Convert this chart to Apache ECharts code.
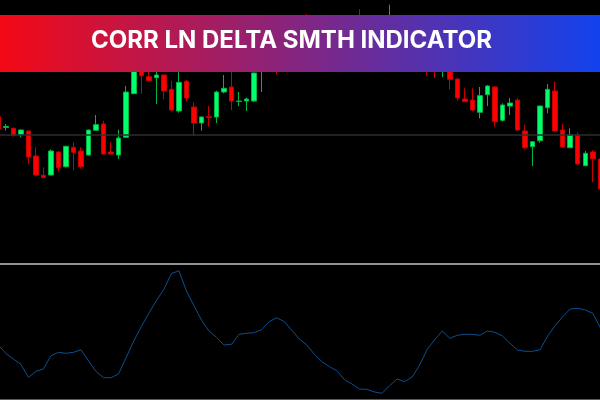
<!DOCTYPE html>
<html>
<head>
<meta charset="utf-8">
<style>
    html, body { margin: 0; padding: 0; background: #000; overflow: hidden; }
    /* chart is wider than the window so the first and last candles can be cut off */
    #main { position: absolute; left: -30px; top: 0; width: 660px; height: 400px; }
</style>
<script src="https://cdn.jsdelivr.net/npm/echarts@6/dist/echarts.min.js"></script>
</head>
<body>
<div id="main"></div>
<script>
// levels, '-' = candle fully hidden behind the banner
var opens = [147.3,136.5,135.7,129.3,133,108,88.7,89,112,97.3,116.7,113,109,133.7,140,112,109,126.7,170.3,200,187.3,186.3,189,174.7,153,182.7,157,141,147.3,147,172,177,162.5,163,163,194,
    '-',205,'-','-','-',222,'-','-','-','-','-','-',240,'-','-','-',235,'-','-','-','-',
    205,205,198,200,185,165,164,151.7,169.3,177,143.7,158,164,133,117.3,123.3,156.3,173,134,116.3,128.7,98.3,112,105];
var closes = [135,137.5,128.3,134,107,89,86.7,113,96.3,117.7,111.7,97.3,134,139.3,110,110,126,172,205,188.3,183.3,189,173,154,181.7,166,141,147,146.5,172,175.7,163,163,165,191,204,
    '-',198,'-','-','-',212,'-','-','-','-','-','-',230,'-','-','-',245,'-','-','-','-',
    198,198,205,184.7,166,162.3,154,168.3,178,142.3,159,161,134,116.3,122.3,158,174.7,133,117,129,100,110.7,105.3,75];
var lows = [135,133.3,127.7,126.7,100,88.5,86,88.5,92.7,96.5,93.7,95.3,108.5,133.5,109.5,109.5,105,126.3,170,170.3,183,160,164.7,153,151.3,163,128,133.3,137.3,141,170.7,154,158,153,162,172,
    '-',189.3,'-','-','-',205,'-','-','-','-','-','-',222,'-','-','-',228,'-','-','-','-',
    188.3,186,187,174.7,163.3,162,153,145.7,158,137.3,142.3,149,133,115,98,121.3,150.7,132.5,116.5,116,98.7,98,82,74.5];
var highs = [147.3,140,136.3,134.5,133.5,116.7,96.7,114.7,112.5,118.3,121.7,116.7,134.5,149,143,121.7,134.3,178,205.5,200.5,194,199,189.5,183,194,184,161.7,147.5,158,173.3,189,194,172,166.3,191.5,206,
    '-',208,'-','-','-',250,'-','-','-','-','-','-',254.7,'-','-','-',259.3,'-','-','-','-',
    208,208,208,205,185.5,175.7,175.7,177,179,178,160.7,166,165.7,139.3,123,158.5,180,182.7,140,135.7,131.7,113,114,105.5];
var corrLnDelta = [55,46.7,41,35.7,22.7,28.7,31,44.3,47.7,46.7,47.7,50.3,39,28.3,22.3,22.3,26.3,42.7,59,73.3,86.7,99.3,110.7,126.3,129.3,109,94.3,80,
    69,62.7,55,55.7,65.7,66.7,67.3,70.3,78.3,82.3,78.3,69.7,61,55,45.7,38.3,33.3,29.3,20.3,16,11,10.7,8,6.7,14.3,21,
    18.3,23,35,50.7,60.3,69,61.7,64.7,65.7,65.7,64.7,69,67.7,64,56.7,50,48.7,48.7,50.3,64,74.3,83.3,91,91.7,90,86.7,72.3];
var supportLevel = 129.5;
var titleText = 'CORR LN DELTA SMTH INDICATOR';

var categories = corrLnDelta.map(function (d, i) { return i; });
categories.push(81); // empty slot past the right edge
var candles = categories.map(function (d, i) {
    if (i >= opens.length || opens[i] === '-') return ['-', '-', '-', '-'];
    return [opens[i], closes[i], lows[i], highs[i]];
});

var myChart = echarts.init(document.getElementById('main'), null, { renderer: 'canvas' });
var option = {
    animation: false,
    backgroundColor: '#000',
    grid: [
        { left: 24.54, top: 0, width: 617.05, height: 264 },
        { left: 24.54, top: 265, width: 617.05, height: 134 }
    ],
    xAxis: [{
        type: 'category',
        gridIndex: 0,
        data: categories,
        axisLabel: { show: false },
        axisTick: { show: false },
        axisLine: { show: true, lineStyle: { color: '#929292', width: 2 } },
        splitLine: { show: false }
    }, {
        type: 'category',
        gridIndex: 1,
        data: categories,
        axisLabel: { show: false },
        axisTick: { show: false },
        axisLine: { show: true, lineStyle: { color: '#5a5a5a', width: 1 } },
        splitLine: { show: false }
    }],
    yAxis: [{
        type: 'value',
        gridIndex: 0,
        min: 0,
        max: 264,
        show: false
    }, {
        type: 'value',
        gridIndex: 1,
        min: 1,
        max: 135,
        show: false
    }],
    series: [{
        type: 'candlestick',
        xAxisIndex: 0,
        yAxisIndex: 0,
        data: candles,
        barWidth: 5,
        itemStyle: {
            color: '#00ff6a',
            color0: '#ff0000',
            borderColor: '#00b544',
            borderColor0: '#c80000',
            borderWidth: 1
        },
        markLine: {
            silent: true,
            symbol: 'none',
            label: { show: false },
            lineStyle: { color: '#2b2e33', width: 1.5, type: 'solid' },
            data: [{ yAxis: supportLevel }]
        }
    }, {
        type: 'line',
        xAxisIndex: 1,
        yAxisIndex: 1,
        data: corrLnDelta,
        symbol: 'none',
        lineStyle: { color: '#0d4f8f', width: 1 }
    }],
    graphic: [{
        type: 'rect',
        z: 100,
        shape: { x: 30, y: 15, width: 600, height: 57 },
        style: {
            fill: new echarts.graphic.LinearGradient(0, 0, 1, 0, [
                { offset: 0, color: '#f40915' },
                { offset: 1, color: '#1242ee' }
            ])
        }
    }, {
        type: 'text',
        z: 101,
        x: 321.5,
        y: 41,
        style: {
            text: titleText,
            fill: '#fff',
            font: 'bold 24px "Inter", "Lato", sans-serif',
            align: 'center',
            verticalAlign: 'middle'
        }
    }]
};
myChart.setOption(option);
</script>
</body>
</html>
